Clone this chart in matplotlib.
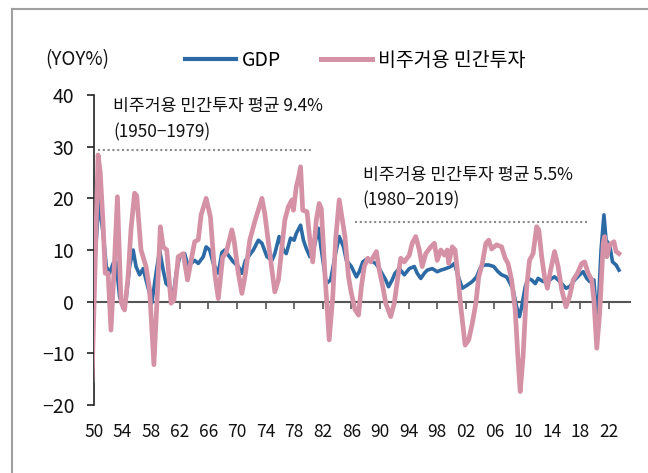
import matplotlib
matplotlib.use("Agg")
import matplotlib.pyplot as plt
from matplotlib.lines import Line2D
import matplotlib.transforms as mtransforms

plt.rcParams['font.family'] = ['Noto Sans CJK KR', 'DejaVu Sans']
plt.rcParams['font.weight'] = 'light'
plt.rcParams['axes.unicode_minus'] = True

# ---- data ----
gdp_year = [1949.9, 1950.7, 1951.3, 1951.75, 1952.2, 1952.7, 1953.1, 1953.6, 1954.1, 1954.5,
            1955.0, 1955.5, 1955.9, 1956.4, 1956.9, 1957.3, 1957.8, 1958.1, 1958.7, 1959.2,
            1959.7, 1960.1, 1960.6, 1961.1, 1961.5, 1962.0, 1962.7, 1963.2, 1963.6, 1964.1,
            1964.6, 1965.3, 1965.7, 1966.2, 1966.7, 1967.4, 1967.9, 1968.3, 1968.8, 1969.5,
            1970.2, 1970.7, 1971.2, 1971.6, 1972.3, 1973.0, 1973.5, 1974.2, 1974.9, 1975.3,
            1975.9, 1976.5, 1976.9, 1977.5, 1978.0, 1978.3, 1978.9, 1979.3, 1979.7, 1980.2,
            1980.7, 1981.4, 1981.8, 1982.5, 1983.1, 1983.7, 1984.3, 1984.9, 1985.3, 1986.0,
            1986.7, 1987.1, 1987.6, 1988.3, 1989.0, 1989.4, 1989.9, 1990.4, 1990.8, 1991.2,
            1991.7, 1992.1, 1992.7, 1993.4, 1994.1, 1994.8, 1995.2, 1995.7, 1996.2, 1996.6,
            1997.3, 1998.0, 1998.5, 1999.2, 1999.9, 2000.4, 2000.8, 2001.5, 2002.2, 2002.9,
            2003.5, 2004.1, 2004.6, 2005.2, 2005.9, 2006.5, 2007.0, 2007.7, 2008.2, 2008.6,
            2009.1, 2009.5, 2009.8, 2010.3, 2010.7, 2011.2, 2011.7, 2012.1, 2012.8, 2013.5,
            2014.0, 2014.4, 2014.9, 2015.4, 2016.0, 2016.5, 2017.2, 2017.9, 2018.4, 2018.9,
            2019.3, 2019.9, 2020.3, 2020.6, 2020.9, 2021.3, 2021.6, 2022.1, 2022.5, 2023.0,
            2023.4]
gdp_val = [2.0, 19.7, 13.2, 6.8, 5.5, 7.4, 7.7, 1.0, -1.3, 0.3,
           6.8, 10.0, 6.8, 5.2, 6.4, 4.2, 1.6, -0.3, 5.5, 10.0,
           6.1, 3.5, 2.9, 1.0, 5.5, 8.7, 9.3, 6.8, 7.4, 8.0,
           7.4, 8.7, 10.6, 10.0, 7.4, 5.5, 9.5, 10.0, 9.0, 7.7,
           6.8, 5.5, 8.0, 8.7, 10.0, 11.9, 11.3, 8.7, 8.0, 9.3,
           12.6, 10.0, 9.3, 12.3, 11.9, 13.2, 14.8, 11.9, 10.3, 8.7,
           10.0, 14.2, 10.0, 3.5, 4.2, 8.7, 12.6, 10.6, 8.0, 6.8,
           4.8, 5.8, 7.7, 8.4, 7.7, 7.4, 6.4, 5.2, 4.2, 2.9,
           4.2, 5.5, 6.4, 5.2, 6.4, 6.8, 5.5, 4.5, 5.5, 6.1,
           6.4, 5.8, 6.1, 6.4, 6.8, 7.4, 5.5, 2.6, 3.2, 3.9,
           4.8, 6.8, 7.1, 7.1, 6.8, 5.8, 5.2, 4.8, 3.5, 2.3,
           -1.0, -2.9, -1.0, 2.9, 4.5, 4.2, 3.5, 4.5, 3.9, 3.9,
           4.5, 4.8, 4.2, 3.5, 2.6, 2.9, 4.2, 5.2, 5.8, 4.5,
           3.9, 4.2, -3.5, 1.6, 10.0, 16.8, 11.9, 11.0, 7.7, 7.1,
           6.1]

inv_year = [1949.75, 1950.6, 1950.9, 1951.3, 1951.6, 1952.0, 1952.4, 1952.9, 1953.3, 1953.8,
            1954.3, 1954.8, 1955.2, 1955.7, 1956.0, 1956.6, 1957.3, 1957.8, 1958.4, 1958.9,
            1959.3, 1959.7, 1960.2, 1960.8, 1961.2, 1961.8, 1962.5, 1963.1, 1963.6, 1964.1,
            1964.6, 1965.0, 1965.7, 1966.3, 1966.9, 1967.4, 1968.0, 1968.5, 1969.3, 1969.6,
            1970.2, 1970.7, 1971.2, 1971.8, 1972.5, 1973.5, 1973.9, 1974.6, 1975.3, 1975.8,
            1976.2, 1976.7, 1977.2, 1977.7, 1977.9, 1978.3, 1978.6, 1978.9, 1979.2, 1979.8,
            1980.2, 1980.6, 1981.1, 1981.5, 1981.8, 1982.3, 1982.9, 1983.4, 1983.8, 1984.3,
            1984.6, 1985.1, 1985.6, 1986.0, 1986.5, 1987.0, 1987.4, 1987.8, 1988.3, 1988.7,
            1989.2, 1989.5, 1989.9, 1990.4, 1990.8, 1991.5, 1992.0, 1992.5, 1992.9, 1993.4,
            1994.1, 1994.5, 1995.0, 1995.5, 1995.9, 1996.4, 1997.1, 1997.6, 1998.0, 1998.5,
            1999.0, 1999.4, 1999.6, 2000.1, 2000.5, 2000.8, 2001.3, 2001.9, 2002.4, 2002.9,
            2003.4, 2003.8, 2004.3, 2004.8, 2005.2, 2005.6, 2006.3, 2007.0, 2007.5, 2007.9,
            2008.4, 2008.9, 2009.3, 2009.6, 2010.0, 2010.5, 2010.9, 2011.4, 2011.9, 2012.2,
            2012.6, 2013.0, 2013.4, 2013.8, 2014.4, 2014.9, 2015.4, 2016.0, 2016.5, 2017.0,
            2017.6, 2018.2, 2018.6, 2019.1, 2019.6, 2019.9, 2020.3, 2020.7, 2021.2, 2021.4,
            2021.7, 2022.1, 2022.4, 2022.7, 2023.0, 2023.4]
inv_val = [-15.2, 28.4, 25.0, 15.0, 5.5, 5.5, -5.5, 8.0, 20.3, 0.0,
           -1.6, 5.0, 14.0, 21.0, 20.5, 10.0, 6.8, 2.3, -12.2, 2.0,
           14.5, 10.6, 10.0, -0.3, 0.3, 8.7, 9.3, 4.2, 8.0, 11.6,
           12.0, 16.8, 20.0, 16.4, 5.5, 0.6, 8.5, 9.5, 13.9, 11.9,
           5.5, 1.6, 5.5, 11.9, 15.5, 20.0, 17.0, 9.3, 1.9, 4.2,
           9.3, 15.8, 18.4, 19.7, 17.7, 22.2, 23.9, 26.1, 17.7, 17.4,
           12.0, 7.7, 15.8, 19.0, 18.0, 5.5, -7.4, 1.0, 12.0, 19.7,
           17.0, 12.6, 4.8, 1.6, -1.5, -2.6, 2.9, 6.8, 8.4, 7.7,
           9.0, 9.7, 6.1, 2.9, -0.3, -2.9, -0.3, 4.8, 8.4, 7.7,
           9.0, 11.3, 12.6, 10.0, 6.8, 9.3, 10.6, 11.3, 8.0, 10.0,
           9.0, 10.0, 7.4, 10.6, 10.0, 6.1, -1.0, -8.4, -7.4, -4.2,
           -0.3, 4.8, 7.4, 11.3, 11.9, 10.2, 11.0, 10.6, 8.4, 7.4,
           4.2, -1.6, -11.3, -17.4, -10.6, 2.9, 8.0, 9.3, 14.5, 13.9,
           8.7, 4.8, 2.6, 5.8, 9.7, 6.8, 2.3, -1.0, 1.0, 4.2,
           5.5, 7.4, 7.7, 5.5, 4.2, 0.3, -9.0, -2.3, 11.3, 12.6,
           8.7, 11.0, 11.3, 11.6, 9.7, 9.3]

x_ticks = list(range(1950, 2023, 4))
x_ticklabels = [f"{y % 100:02d}" for y in x_ticks]
y_ticks = [-20, -10, 0, 10, 20, 30, 40]

series_names = ["GDP", "비주거용 민간투자"]
avg_text_1 = ["비주거용 민간투자 평균 9.4%", "(1950\u22121979)"]
avg_text_2 = ["비주거용 민간투자 평균 5.5%", "(1980\u22122019)"]

BLUE = "#2C6AA6"
PINK = "#D592A6"
TXT = "#111111"

fig = plt.figure(figsize=(6.48, 4.73), dpi=100)
ax = fig.add_axes([93.8 / 648, 1 - 405 / 473, (630.4 - 93.8) / 648, (405 - 95) / 473])

ax.plot(gdp_year, gdp_val, color=BLUE, lw=2.6, solid_joinstyle='round', zorder=3)
ax.plot(inv_year, inv_val, color=PINK, lw=3.4, solid_joinstyle='round', zorder=4)

ax.set_xlim(1950, 2025)
ax.set_ylim(-20, 40)

for s in ['top', 'right']:
    ax.spines[s].set_visible(False)
ax.spines['left'].set_color('#222222')
ax.spines['left'].set_linewidth(1.2)
ax.spines['bottom'].set_position(('data', 0))
ax.spines['bottom'].set_color('#555555')
ax.spines['bottom'].set_linewidth(1.5)
ax.spines['bottom'].set_zorder(2)

ax.set_yticks(y_ticks)
ax.tick_params(axis='y', direction='out', length=5, width=1.2, color='#222222',
               labelsize=14, pad=9, labelcolor=TXT)
ax.set_xticks(x_ticks)
ax.tick_params(axis='x', direction='out', length=5, width=1.2, color='#555555',
               labelbottom=False)

trans = mtransforms.blended_transform_factory(ax.transData, ax.transAxes)
for xv, lab in zip(x_ticks, x_ticklabels):
    ax.text(xv, -0.087, lab, transform=trans, ha='center', va='center',
            fontsize=12.5, color=TXT)

# average dotted lines
ax.plot([1950.6, 1980.6], [29.3, 29.3], color='#8a8a8a', lw=1.5,
        linestyle=(0, (1, 1.3)), zorder=2)
ax.plot([1986.5, 2018.9], [15.5, 15.5], color='#8a8a8a', lw=1.5,
        linestyle=(0, (1, 1.3)), zorder=2)

ax.text(1952.7, 37.8, avg_text_1[0], fontsize=12.4, va='center', ha='left', color=TXT)
ax.text(1952.7, 32.7, avg_text_1[1], fontsize=12.4, va='center', ha='left', color=TXT)
ax.text(1987.6, 24.6, avg_text_2[0], fontsize=12.4, va='center', ha='left', color=TXT)
ax.text(1987.6, 19.7, avg_text_2[1], fontsize=12.4, va='center', ha='left', color=TXT)

fig.text(45 / 648, 1 - 60 / 473, "(YOY%)", fontsize=13.5, va='center', ha='left', color=TXT)

handles = [Line2D([], [], color=BLUE, lw=3.0), Line2D([], [], color=PINK, lw=3.6)]
fig.legend(handles, series_names, loc='center left',
           bbox_to_anchor=(185 / 648, 1 - 60 / 473), bbox_transform=fig.transFigure,
           ncol=2, frameon=False, fontsize=14, handlelength=2.6, handletextpad=0.3,
           columnspacing=2.1, borderpad=0, borderaxespad=0)

fig.add_artist(Line2D([12 / 648, 1.0], [1 - 9 / 473, 1 - 9 / 473], color='#a0a0a0', lw=1.5,
                      transform=fig.transFigure))
fig.add_artist(Line2D([12 / 648, 12 / 648], [0, 1 - 9 / 473], color='#a0a0a0', lw=1.5,
                      transform=fig.transFigure))

fig.savefig("out.png", dpi=100)
